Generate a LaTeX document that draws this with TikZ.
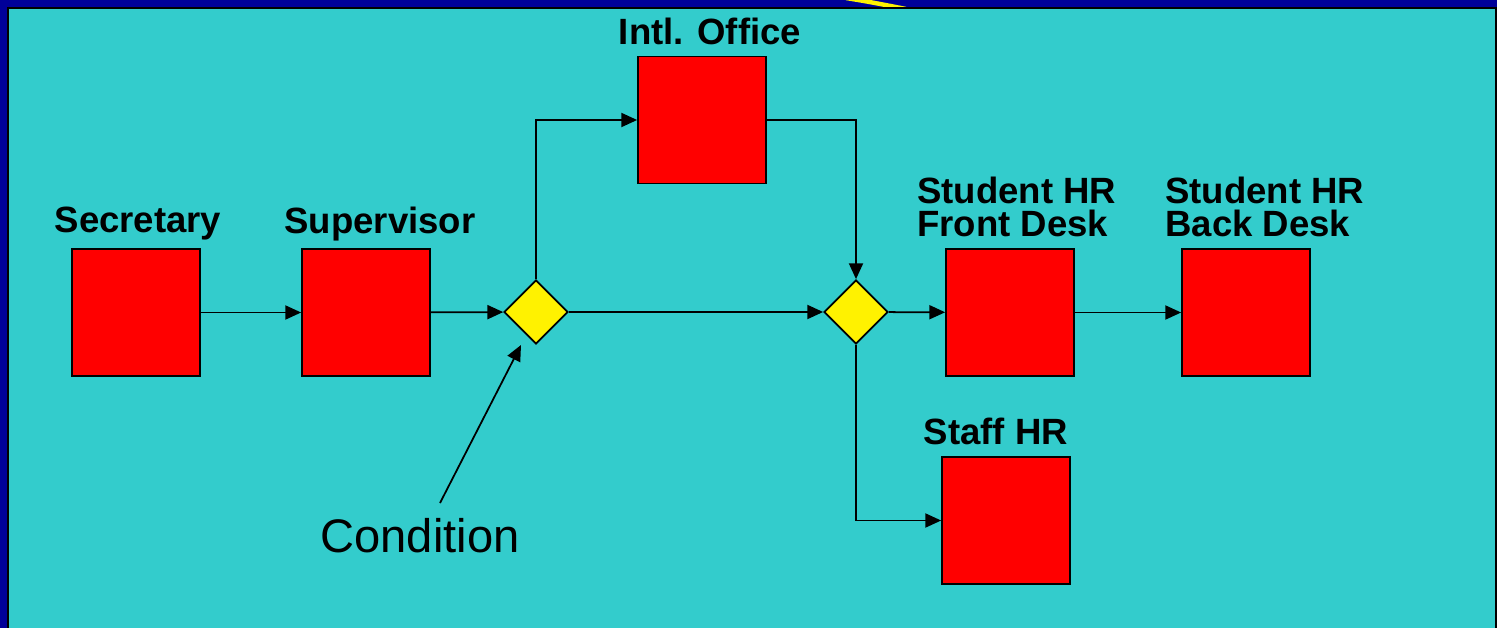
\documentclass[tikz,border=0pt]{standalone}
\usepackage{fontspec}
\setmainfont{Liberation Sans}
\usepackage{tikz}
\usetikzlibrary{arrows.meta,positioning,shapes.geometric}
\definecolor{frameblue}{HTML}{000099}
\definecolor{slidecyan}{HTML}{33CCCC}
\tikzset{
    %Define standard arrow tip
    >={Triangle[length=9pt,width=8pt]},
    %Define style for boxes
    office/.style={
           rectangle,
           draw=black, line width=1pt,
           minimum width=2.56cm,
           minimum height=2.54cm,
           inner sep=0pt,
           fill=red},
    decision/.style={
           diamond,
           draw=black, line width=1pt,
           minimum width=1.28cm,
           minimum height=1.28cm,
           inner sep=0pt,
           fill=yellow},
    % Define label style
    lbl/.style={
           font=\fontsize{20.8}{18.6}\selectfont\bfseries,
           inner sep=0pt,
           align=left},
    % Define arrow style
    pil/.style={
           ->,
           line width=1pt}
}
\begin{document}
\begin{tikzpicture}[x=0.02cm,y=-0.02cm]
\useasboundingbox (0,0) rectangle (1497,628);
% slide background
\fill[frameblue] (0,0) rectangle (1497,628);
\draw[yellow, line width=2.5pt] (846,-2) .. controls (870,2) .. (906,9);
\fill[slidecyan] (8,8) rectangle (1496,628);
\draw[black, line width=0.8pt] (8,628) -- (8,8) -- (1496,8) -- (1496,628);
% boxes
\node[office] (sec) at (136,312.5) {};
\node[office] (sup) at (366,312.5) {};
\node[decision] (c1) at (536,312) {};
\node[office] (intl) at (702,120) {};
\node[decision] (c2) at (856,312) {};
\node[office] (front) at (1010,312.5) {};
\node[office] (back) at (1246,312.5) {};
\node[office] (staff) at (1006,520.5) {};
% labels
\node[lbl] (secl) at (138,224) {Secretary};
\node[lbl] (supl) at (380,224) {Supervisor};
\node[lbl] (intll) at (710,31) {Intl. Office};
\node[lbl, anchor=west] (frontl) at (917,207) {Student HR\\Front Desk};
\node[lbl, anchor=west] (backl) at (1165,207) {Student HR\\Back Desk};
\node[lbl] (staffl) at (996,431) {Staff HR};
\node[font=\fontsize{26.8}{30}\selectfont, inner sep=0pt] (cond) at (420,536) {Condition};
\coordinate (condtail) at (440,503);
\coordinate (condtip) at (521,345);
% connectors
\draw[pil] (sec) -- (sup);
\draw[pil] (sup) -- (c1);
\draw[pil] (c1.north) |- (intl.west);
\draw[pil] (intl.east) -| (c2.north);
\draw[pil] (c1) -- (c2);
\draw[pil] (c2) -- (front);
\draw[pil] (front) -- (back);
\draw[pil] (c2.south) |- (staff.west);
\draw[pil] (condtail) -- (condtip);
\end{tikzpicture}
\end{document}
